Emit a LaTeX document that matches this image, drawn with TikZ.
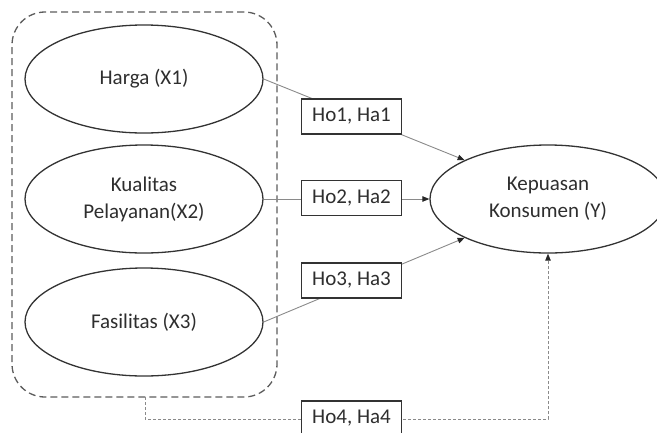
\documentclass[tikz,border=0pt]{standalone}
\usepackage{fontspec}
\setmainfont{Carlito}
\usetikzlibrary{shapes.geometric,arrows.meta}
\definecolor{edgegray}{HTML}{333333}
\definecolor{linegray}{HTML}{8A8A8A}
\definecolor{txtgray}{HTML}{2E2E2E}
\begin{document}
\begin{tikzpicture}[x=1pt,y=-1pt,
  font=\fontsize{21}{27}\selectfont,
  varell/.style={draw=edgegray, line width=1.3pt, ellipse, inner sep=0pt,
    minimum width=238pt, minimum height=108pt, align=center, text=txtgray},
  hypbox/.style={draw=edgegray, line width=1.3pt, fill=white, inner sep=0pt,
    minimum width=100pt, minimum height=35pt, text=txtgray},
  conn/.style={draw=linegray, line width=0.9pt},
  tip/.style={-{Triangle[length=7pt,width=5.5pt,color=black!85]}},
  grpbox/.style={draw=edgegray!80, line width=1.3pt, dash pattern=on 7pt off 4pt,
    rounded corners=33pt, minimum width=265pt, minimum height=385pt, inner sep=0pt},
  thindash/.style={draw=linegray, line width=0.9pt, dash pattern=on 3pt off 2pt}
]
\useasboundingbox (0,0) rectangle (657,432);
\node[grpbox] (grp) at (144.5,204.5) {};
\node[varell] (x1) at (144,79) {Harga (X1)};
\node[varell] (x2) at (144,199) {Kualitas\\Pelayanan(X2)};
\node[varell] (x3) at (144,322) {Fasilitas (X3)};
\node[varell, minimum width=236pt] (y) at (548,199) {Kepuasan\\Konsumen (Y)};
\coordinate (gb) at (145,397);
\coordinate (c1) at (145,419);
\coordinate (c2) at (548,419);
\draw[conn,tip] (x1.east) -- (y.155);
\draw[conn,tip] (x2.east) -- (y.west);
\draw[conn,tip] (x3.east) -- (y.205);
\draw[thindash,tip] (gb) -- (c1) -- (c2) -- (y.south);
\node[hypbox] (h1) at (351.5,116.5) {Ho1, Ha1};
\node[hypbox] (h2) at (351.5,198) {Ho2, Ha2};
\node[hypbox] (h3) at (351.5,280.5) {Ho3, Ha3};
\node[hypbox] (h4) at (351.5,418.5) {Ho4, Ha4};
\end{tikzpicture}
\end{document}
